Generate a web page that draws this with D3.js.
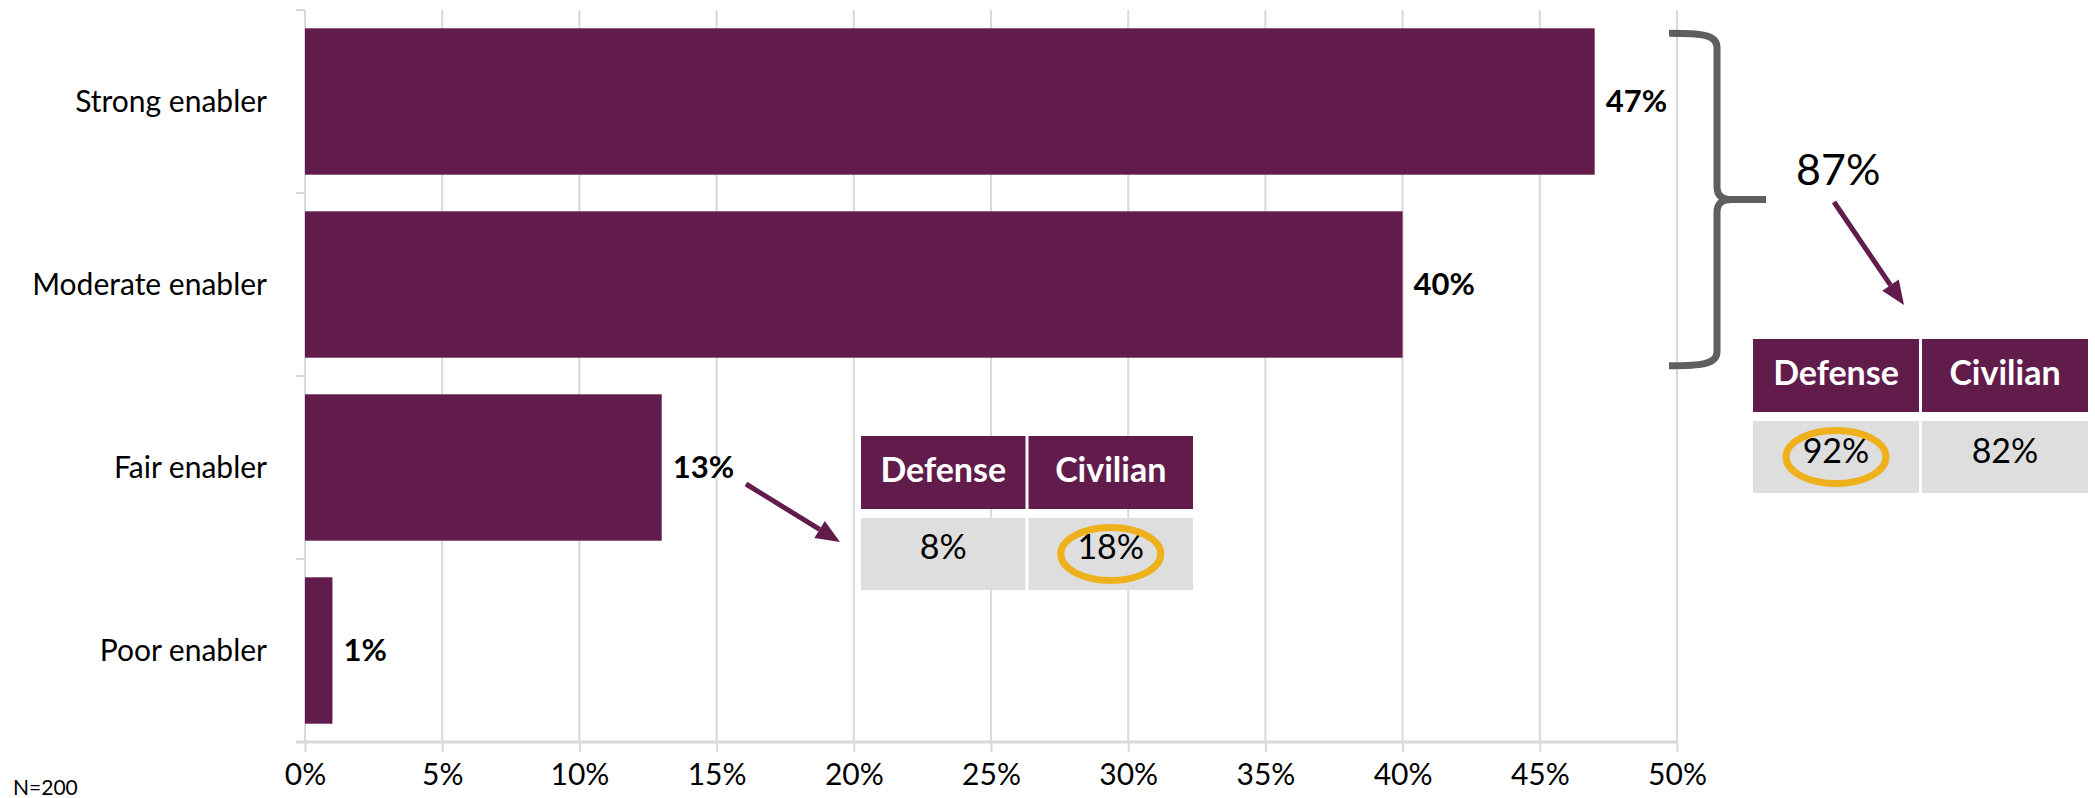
<!DOCTYPE html>
<html>
<head>
<meta charset="utf-8">
<script src="https://cdn.jsdelivr.net/npm/d3@7"></script>
<style>
  html, body { margin: 0; padding: 0; background: #fff; }
  svg { display: block; font-family: Lato, "Open Sans", sans-serif; }
</style>
</head>
<body>
<svg id="chart" width="2095" height="798"></svg>
<script>
// Survey answers (share of respondents, %)
const categories = ["Strong enabler", "Moderate enabler", "Fair enabler", "Poor enabler"];
const shares = [47, 40, 13, 1];
const xTicks = [0, 5, 10, 15, 20, 25, 30, 35, 40, 45, 50];
const sampleNote = "N=200";

// Breakdown tables by sector
const sectors = ["Defense", "Civilian"];
const fairBySector = [8, 18];       // "Fair enabler" split
const topTwoBySector = [92, 82];    // "Strong" + "Moderate" split
const fairHighlight = 1;            // circled cell
const topTwoHighlight = 0;

const MAROON = "#621c4b";
const GRID = "#d9d9d9";
const CELL = "#dedede";
const RING = "#eeb01b";
const BRACE = "#5f5f5f";

const svg = d3.select("#chart");
const pct = v => v + "%";

const x = d3.scaleLinear().domain([0, 50]).range([305, 1677]);
const y = d3.scaleBand().domain(categories).range([10, 742])
  .paddingInner(0.2).paddingOuter(0.1);
const half = y.step() * y.paddingInner() / 2;

// vertical gridlines
svg.append("g").selectAll("line").data(xTicks.slice(1)).join("line")
  .attr("x1", d => x(d)).attr("x2", d => x(d))
  .attr("y1", 10).attr("y2", 742)
  .attr("stroke", GRID).attr("stroke-width", 2);

// bottom axis
const xAxis = d3.axisBottom(x).tickValues(xTicks).tickFormat(pct)
  .tickSize(10).tickPadding(12);
const gx = svg.append("g").attr("transform", "translate(0,742)").call(xAxis);
gx.select(".domain").remove();
gx.selectAll(".tick line").attr("stroke", GRID).attr("stroke-width", 2);
gx.selectAll(".tick text").attr("font-size", 30).attr("fill", "#000")
  .attr("font-family", "Lato, sans-serif");
svg.append("line").attr("x1", 296).attr("x2", x(50)).attr("y1", 742).attr("y2", 742)
  .attr("stroke", GRID).attr("stroke-width", 3);

// left axis with ticks between categories
svg.append("line").attr("x1", x(0)).attr("x2", x(0)).attr("y1", 10).attr("y2", 742)
  .attr("stroke", GRID).attr("stroke-width", 2);
const bounds = categories.map(c => y(c) - half).concat([y(categories[categories.length - 1]) + y.bandwidth() + half]);
svg.append("g").selectAll("line").data(bounds).join("line")
  .attr("x1", 296).attr("x2", x(0)).attr("y1", d => d).attr("y2", d => d)
  .attr("stroke", GRID).attr("stroke-width", 2);

// category labels
svg.append("g").selectAll("text").data(categories).join("text")
  .attr("x", 267).attr("y", d => y(d) + y.bandwidth() / 2)
  .attr("dy", "0.35em").attr("text-anchor", "end")
  .attr("font-size", 30).attr("fill", "#000").text(d => d);

// bars
svg.append("g").selectAll("rect").data(shares).join("rect")
  .attr("x", x(0)).attr("y", (d, i) => y(categories[i]))
  .attr("width", d => x(d) - x(0)).attr("height", y.bandwidth())
  .attr("fill", MAROON);

// value labels
svg.append("g").selectAll("text").data(shares).join("text")
  .attr("x", d => x(d) + 11).attr("y", (d, i) => y(categories[i]) + y.bandwidth() / 2)
  .attr("dy", "0.35em").attr("font-size", 31).attr("font-weight", 700)
  .attr("fill", "#000").text(pct);

// sample size note
svg.append("text").attr("x", 13).attr("y", 795).attr("font-size", 21)
  .attr("fill", "#000").text(sampleNote);

// arrow: shaft plus filled head
function arrow(x1, y1, x2, y2) {
  const ang = Math.atan2(y2 - y1, x2 - x1);
  const len = 24, w = 10;
  const bx = x2 - len * Math.cos(ang), by = y2 - len * Math.sin(ang);
  svg.append("line").attr("x1", x1).attr("y1", y1).attr("x2", bx).attr("y2", by)
    .attr("stroke", MAROON).attr("stroke-width", 5);
  const px = -Math.sin(ang) * w, py = Math.cos(ang) * w;
  svg.append("path")
    .attr("d", `M${x2},${y2}L${bx + px},${by + py}L${bx - px},${by - py}Z`)
    .attr("fill", MAROON);
}

// sector table
function sectorTable(left, top, colW, gap, headH, bodyH, rowGap, values, hi, headBase, bodyBase) {
  const g = svg.append("g");
  sectors.forEach((s, i) => {
    const cx = left + i * (colW + gap);
    g.append("rect").attr("x", cx).attr("y", top).attr("width", colW).attr("height", headH)
      .attr("fill", MAROON);
    g.append("text").attr("x", cx + colW / 2).attr("y", top + headBase)
      .attr("text-anchor", "middle").attr("font-size", 34).attr("font-weight", 700)
      .attr("fill", "#fff").text(s);
    const by = top + headH + rowGap;
    g.append("rect").attr("x", cx).attr("y", by).attr("width", colW).attr("height", bodyH)
      .attr("fill", CELL);
    g.append("text").attr("x", cx + colW / 2).attr("y", by + bodyBase)
      .attr("text-anchor", "middle").attr("font-size", 34)
      .attr("fill", "#000").text(pct(values[i]));
    if (i === hi) {
      g.append("ellipse").attr("cx", cx + colW / 2).attr("cy", by + bodyH / 2)
        .attr("rx", 50).attr("ry", 26.5).attr("fill", "none")
        .attr("stroke", RING).attr("stroke-width", 7);
    }
  });
}

// "Fair enabler" breakdown
arrow(746, 484, 840, 542);
sectorTable(861, 436, 164.5, 3, 73, 72, 9, fairBySector, fairHighlight, 46, 41);

// brace over the two top answers
const bTop = y(categories[0]) + 5, bBot = y(categories[1]) + y.bandwidth() + 8;
const bMid = (bTop + bBot) / 2;
svg.append("path")
  .attr("d", `M1669,${bTop} C1700,${bTop} 1717,${bTop + 1} 1717,${bTop + 14}
              L1717,${bMid - 13} C1717,${bMid - 4} 1722,${bMid} 1732,${bMid} L1766,${bMid}
              M1732,${bMid} C1722,${bMid} 1717,${bMid + 4} 1717,${bMid + 13}
              L1717,${bBot - 14} C1717,${bBot - 1} 1700,${bBot} 1669,${bBot}`)
  .attr("fill", "none").attr("stroke", BRACE).attr("stroke-width", 7);

svg.append("text").attr("x", 1796).attr("y", 185).attr("font-size", 43)
  .attr("fill", "#000").text(pct(shares[0] + shares[1]));

arrow(1834, 202, 1904, 305);
sectorTable(1753, 339, 166, 3, 73, 72, 9, topTwoBySector, topTwoHighlight, 46, 42);
</script>
</body>
</html>
